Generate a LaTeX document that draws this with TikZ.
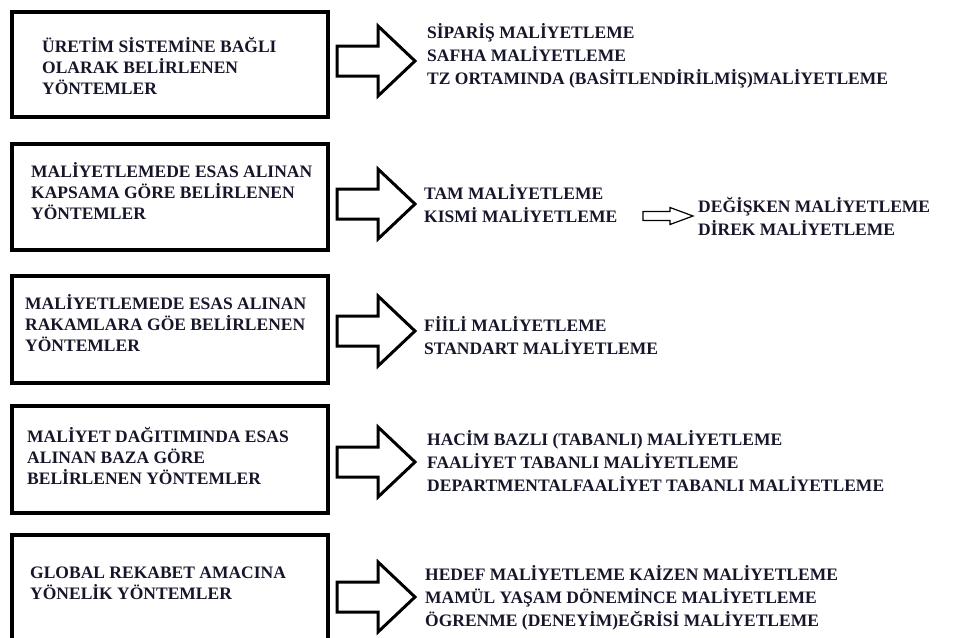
\documentclass[tikz,border=0pt]{standalone}
\usepackage{fontspec}
\setmainfont{Liberation Serif}
\definecolor{ink}{HTML}{16162A}
\begin{document}
\begin{tikzpicture}[x=1pt,y=-1pt,
  catbox/.style={draw=black,line width=4pt},
  label/.style={font=\bfseries\fontsize{17.5}{21}\selectfont,text=ink,align=left,anchor=west,inner sep=0pt},
  methods/.style={font=\bfseries\fontsize{17.5}{23}\selectfont,text=ink,align=left,anchor=west,inner sep=0pt},
  arrowline/.style={draw=black,line width=3pt,fill=white,line join=miter},
  bigarrow/.pic={\draw[arrowline] (0,-15) -- (41,-15) -- (41,-35) -- (78,0) -- (41,35) -- (41,15) -- (0,15) -- cycle;},
  smallarrow/.pic={\draw[draw=black,line width=1.2pt,fill=white] (0,-4.5) -- (27,-4.5) -- (27,-8.5) -- (50,0) -- (27,8.5) -- (27,4.5) -- (0,4.5) -- cycle;}]
\useasboundingbox (0,0) rectangle (955,637);
\clip (0,0) rectangle (955,637);

% category boxes
\draw[catbox] (12,12) rectangle (328,117);
\draw[catbox] (12,144) rectangle (328,250);
\draw[catbox] (12,276) rectangle (328,383);
\draw[catbox] (12,406) rectangle (328,513);
\draw[catbox] (12,535) rectangle (328,680);

% category titles
\node[label] (c1) at (42,66) {ÜRETİM SİSTEMİNE BAĞLI\\OLARAK BELİRLENEN\\YÖNTEMLER};
\node[label] (c2) at (31,191) {MALİYETLEMEDE ESAS ALINAN\\KAPSAMA GÖRE BELİRLENEN\\YÖNTEMLER};
\node[label] (c3) at (25,323) {MALİYETLEMEDE ESAS ALINAN\\RAKAMLARA GÖE BELİRLENEN\\YÖNTEMLER};
\node[label] (c4) at (27,456) {MALİYET DAĞITIMINDA ESAS\\ALINAN BAZA GÖRE\\BELİRLENEN YÖNTEMLER};
\node[label] (c5) at (30,583) {GLOBAL REKABET AMACINA\\YÖNELİK YÖNTEMLER};

% block arrows
\pic at (337,61) {bigarrow};
\pic at (337,204) {bigarrow};
\pic at (337,331) {bigarrow};
\pic at (337,462) {bigarrow};
\pic at (337,597) {bigarrow};

% method lists
\node[methods] (m1) at (427,56) {SİPARİŞ MALİYETLEME\\SAFHA MALİYETLEME\\TZ ORTAMINDA (BASİTLENDİRİLMİŞ)MALİYETLEME};
\node[methods] (m2) at (424,204) {TAM MALİYETLEME\\KISMİ MALİYETLEME};
\pic at (643,216) {smallarrow};
\node[methods] (m2b) at (698,216) {DEĞİŞKEN MALİYETLEME\\DİREK MALİYETLEME};
\node[methods] (m3) at (424,336) {FİİLİ MALİYETLEME\\STANDART MALİYETLEME};
\node[methods] (m4) at (427,461) {HACİM BAZLI (TABANLI) MALİYETLEME\\FAALİYET TABANLI MALİYETLEME\\DEPARTMENTALFAALİYET TABANLI MALİYETLEME};
\node[methods] (m5) at (425,598) {HEDEF MALİYETLEME KAİZEN MALİYETLEME\\MAMÜL YAŞAM DÖNEMİNCE MALİYETLEME\\ÖGRENME (DENEYİM)EĞRİSİ MALİYETLEME};
\end{tikzpicture}
\end{document}
